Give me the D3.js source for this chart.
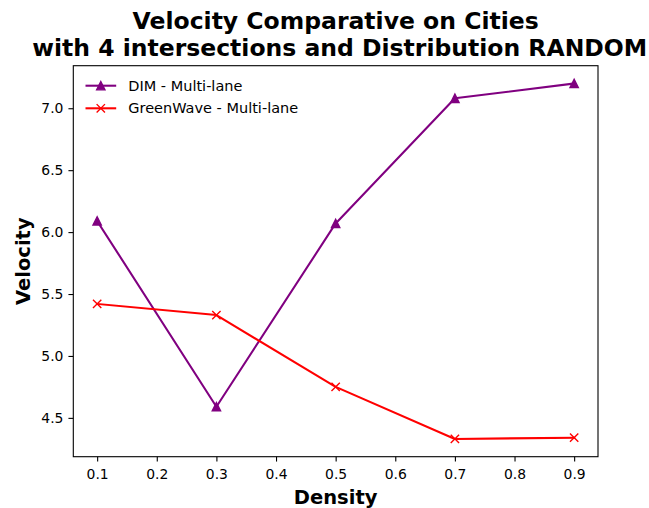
<!DOCTYPE html>
<html>
<head>
<meta charset="utf-8">
<script src="https://cdn.jsdelivr.net/npm/d3@7"></script>
<style>
  html, body { margin: 0; padding: 0; background: #fff; }
  svg { display: block; }
  text { font-family: "DejaVu Sans", sans-serif; }
</style>
</head>
<body>
<svg id="chart" width="649" height="508"></svg>
<script>
const density = [0.1, 0.3, 0.5, 0.7, 0.9];
const dimMultiLane = [6.09, 4.59, 6.07, 7.08, 7.20];
const greenWaveMultiLane = [5.42, 5.33, 4.75, 4.33, 4.34];
const xTicks = [0.1, 0.2, 0.3, 0.4, 0.5, 0.6, 0.7, 0.8, 0.9];
const yTicks = [4.5, 5.0, 5.5, 6.0, 6.5, 7.0];
const seriesNames = ["DIM - Multi-lane", "GreenWave - Multi-lane"];
const titleLines = ["Velocity Comparative on Cities", " with 4 intersections and Distribution RANDOM"];

const series = [
  { name: seriesNames[0], values: dimMultiLane, color: "purple", marker: "triangle" },
  { name: seriesNames[1], values: greenWaveMultiLane, color: "red", marker: "x" }
];

const svg = d3.select("#chart");
const L = 73.3, R = 598, T = 65.7, B = 456.7;

function padded(ext) {
  const m = (ext[1] - ext[0]) * 0.05;
  return [ext[0] - m, ext[1] + m];
}
const x = d3.scaleLinear().domain(padded(d3.extent(density))).range([L, R]);
const allY = dimMultiLane.concat(greenWaveMultiLane);
const y = d3.scaleLinear().domain(padded(d3.extent(allY))).range([B, T]);

const tickLen = 4.86;

// axes
const gx = svg.append("g").attr("transform", `translate(0,${B})`)
  .call(d3.axisBottom(x).tickValues(xTicks).tickFormat(d3.format(".1f")).tickSize(tickLen).tickSizeOuter(0).tickPadding(7.6));
const gy = svg.append("g").attr("transform", `translate(${L},0)`)
  .call(d3.axisLeft(y).tickValues(yTicks).tickFormat(d3.format(".1f")).tickSize(tickLen).tickSizeOuter(0).tickPadding(5));
[gx, gy].forEach(g => {
  g.select(".domain").remove();
  g.selectAll(".tick line").attr("stroke", "#000").attr("stroke-width", 1.1);
  g.selectAll(".tick text").attr("fill", "#000").style("font-size", "13.9px").style("font-family", "DejaVu Sans");
});

// frame
svg.append("rect").attr("x", L).attr("y", T).attr("width", R - L).attr("height", B - T)
  .attr("fill", "none").attr("stroke", "#000").attr("stroke-width", 1.1);

const line = d3.line().x((d, i) => x(density[i])).y(d => y(d));

const ms = 4.17;
function drawMarker(g, type, cx, cy, color) {
  if (type === "triangle") {
    g.append("path")
      .attr("d", `M${cx},${cy - ms}L${cx - ms},${cy + ms}L${cx + ms},${cy + ms}Z`)
      .attr("fill", color).attr("stroke", color).attr("stroke-width", 1.39).attr("stroke-linejoin", "miter");
  } else {
    g.append("path")
      .attr("d", `M${cx - ms},${cy - ms}L${cx + ms},${cy + ms}M${cx - ms},${cy + ms}L${cx + ms},${cy - ms}`)
      .attr("fill", "none").attr("stroke", color).attr("stroke-width", 1.39);
  }
}

const plot = svg.append("g");
series.forEach(s => {
  plot.append("path").datum(s.values).attr("d", line)
    .attr("fill", "none").attr("stroke", s.color).attr("stroke-width", 2.08).attr("stroke-linejoin", "round").attr("stroke-linecap", "square");
  s.values.forEach((v, i) => drawMarker(plot, s.marker, x(density[i]), y(v), s.color));
});

// legend
const legend = svg.append("g");
series.forEach((s, i) => {
  const ly = 85.7 + i * 22.6;
  legend.append("line").attr("x1", 85.5).attr("x2", 116.2).attr("y1", ly).attr("y2", ly)
    .attr("stroke", s.color).attr("stroke-width", 2.08);
  drawMarker(legend, s.marker, 100.8, ly, s.color);
  legend.append("text").attr("x", 128.3).attr("y", ly + 5.1).text(s.name)
    .style("font-size", "14.5px").attr("fill", "#000");
});

// labels
svg.append("text").attr("x", (L + R) / 2).attr("y", 504).attr("text-anchor", "middle")
  .style("font-size", "19.5px").style("font-weight", "bold").text("Density");
svg.append("text").attr("transform", `translate(30,${(T + B) / 2}) rotate(-90)`).attr("text-anchor", "middle")
  .style("font-size", "19.5px").style("font-weight", "bold").text("Velocity");

// title
titleLines.forEach((t, i) => {
  svg.append("text").attr("x", (L + R) / 2).attr("y", 28.5 + i * 27.8).attr("text-anchor", "middle")
    .style("font-size", "23.5px").style("font-weight", "bold").style("white-space", "pre").text(t);
});
</script>
</body>
</html>
